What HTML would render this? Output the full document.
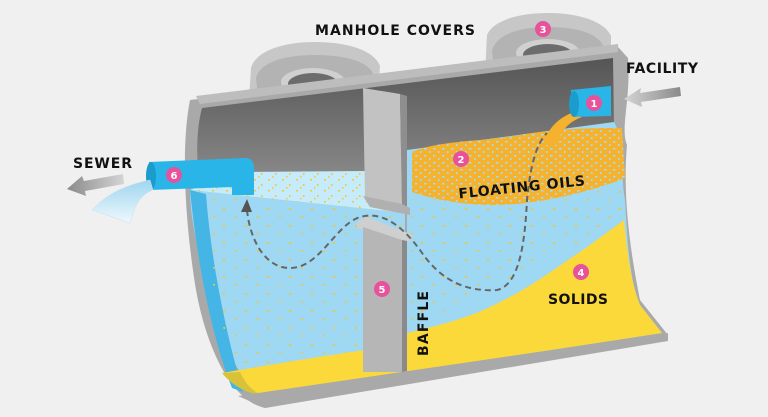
<!DOCTYPE html>
<html><head><meta charset="utf-8"><style>
html,body{margin:0;padding:0;background:#f0f0f0;}
svg{display:block}
text{font-family:"DejaVu Sans","Liberation Sans",sans-serif;font-weight:bold;}
</style></head><body>
<svg width="768" height="417" viewBox="0 0 768 417" xmlns="http://www.w3.org/2000/svg">
<defs>
<linearGradient id="wall" x1="0" y1="0" x2="0" y2="1"><stop offset="0" stop-color="#555"/><stop offset="1" stop-color="#8e8e8e"/></linearGradient>
<linearGradient id="arr" x1="0" y1="0" x2="1" y2="0"><stop offset="0" stop-color="#8a8a8a"/><stop offset="1" stop-color="#d5d5d5"/></linearGradient>
<linearGradient id="arr2" x1="1" y1="0" x2="0" y2="0"><stop offset="0" stop-color="#8a8a8a"/><stop offset="1" stop-color="#d5d5d5"/></linearGradient>
<linearGradient id="flow" x1="0" y1="0" x2="0" y2="1"><stop offset="0" stop-color="#9fd6f0"/><stop offset="1" stop-color="#eef8fc"/></linearGradient>
<pattern id="spk" width="14" height="11" patternUnits="userSpaceOnUse">
<rect x="2" y="3" width="2" height="1.5" fill="#f3c93a"/><rect x="9" y="8" width="1.5" height="2" fill="#f3c93a"/><rect x="6" y="0" width="1.5" height="1.5" fill="#f3c93a"/></pattern>
<pattern id="spk2" width="22" height="17" patternUnits="userSpaceOnUse">
<rect x="3" y="4" width="2" height="2" fill="#f0c63a"/><rect x="15" y="12" width="2" height="1.5" fill="#f0c63a"/></pattern>
<pattern id="oil" width="9" height="7" patternUnits="userSpaceOnUse">
<rect x="1" y="1" width="2.5" height="1.5" fill="#a6dcf3"/><rect x="6" y="4" width="1.5" height="2" fill="#a6dcf3"/></pattern>
</defs>

<g>
<path d="M249,100 L251,68 C256,50 285,42 315,42 C347,42 374,50 380,66 L378,96 Z" fill="#c7c7c7"/>
<path d="M256,78 C260,62 285,55 315,55 C347,55 370,62 374,76 L372,92 L258,96 Z" fill="#b3b3b3"/>
<ellipse cx="313" cy="82" rx="32" ry="14" fill="#d0d0d0"/>
<ellipse cx="313" cy="84" rx="25" ry="11" fill="#6c6c6c"/>
<path d="M485,75 L487,35 C493,20 520,13 548,13 C580,13 605,22 611,36 L611,70 Z" fill="#c7c7c7"/>
<path d="M492,50 C497,34 520,27 548,27 C578,27 600,34 604,48 L604,66 L494,72 Z" fill="#b3b3b3"/>
<ellipse cx="548" cy="53" rx="32" ry="14" fill="#d0d0d0"/>
<ellipse cx="548" cy="55" rx="25" ry="11" fill="#6c6c6c"/>
</g>

<path d="M190,100 L618,47 L628,58 C631,100 620,128 627,145 C622,200 632,260 640,300 L668,335 L265,408 C228,400 205,340 196,290 C186,230 180,150 190,100 Z" fill="#a9a9a9"/>
<path d="M196,96 L618,44 L618,52 L200,104 Z" fill="#bdbdbd"/>
<path d="M202,108 L613,58 L614,124 L410,150 L368,172 L232,172 L200,190 C196,160 196,130 202,108 Z" fill="url(#wall)"/>

<path d="M407,150 L614,122 C625,140 620,170 625,200 C628,250 630,280 640,305 L662,333 L407,372 Z" fill="#9fd8f2"/>
<path d="M190,190 L405,213 L405,372 L262,395 C240,385 215,330 203,270 C196,240 190,215 190,190 Z" fill="#9fd8f2"/>
<path d="M190,190 L206,194 C211,260 225,330 243,392 L232,388 C213,340 198,270 190,190 Z" fill="#45b5e6"/>
<path d="M190,190 L232,172 L368,171 L405,213 Z" fill="#c6ebfa"/>
<path d="M190,190 L232,172 L368,171 L405,213 Z" fill="url(#spk)"/>
<path d="M206,196 L405,214 L405,372 L262,395 C240,385 220,330 210,270 Z" fill="url(#spk2)"/>
<path d="M407,200 L625,175 L625,220 L407,330 Z" fill="url(#spk2)"/>

<path d="M407,333 C440,325 470,318 500,302 C530,288 560,265 590,245 L624,220 C628,260 632,285 640,305 L662,333 L407,372 Z" fill="#fbd93a"/>
<path d="M222,373 C280,363 330,355 365,350 L404,360 L404,372 L265,395 C245,392 232,385 222,373 Z" fill="#fbd93a"/>
<path d="M222,373 L240,372 C245,382 250,390 262,395 C245,393 232,385 222,373Z" fill="#d8c23a"/>
<path d="M238,396 L668,333 L668,341 L265,408 Z" fill="#a9a9a9"/>

<path d="M412,152 C440,140 480,142 520,135 C560,128 595,128 622,128 L625,178 C600,188 565,198 525,203 C485,208 445,203 412,192 Z" fill="#f5b22f"/>
<path d="M412,152 C440,140 480,142 520,135 C560,128 595,128 622,128 L625,178 C600,188 565,198 525,203 C485,208 445,203 412,192 Z" fill="url(#oil)"/>
<path d="M574,112 C558,118 548,128 543,145 L556,145 C560,132 568,122 582,117 Z" fill="#f5b22f"/>

<path d="M363,88 L400,94 L402,205 L365,198 Z" fill="#c2c2c2"/>
<path d="M400,94 L407,96 L407,210 L402,205 Z" fill="#8e8e8e"/>
<path d="M363,196 L402,204 L410,208 L410,215 L370,207 Z" fill="#b0b0b0"/>
<path d="M357,222 L367,217 L413,235 L411,242 L357,228 Z" fill="#cfcfcf"/>
<path d="M363,227 L402,240 L402,372 L363,372 Z" fill="#b6b6b6"/>
<path d="M402,240 L407,241 L407,371 L402,372 Z" fill="#8a8a8a"/>

<path d="M247,210 C250,240 265,268 290,268 C320,268 335,225 360,217 C385,210 405,230 420,250 C440,280 465,292 497,290 C520,285 525,240 527,200 C530,170 535,145 547,133" fill="none" stroke="#666" stroke-width="2" stroke-dasharray="6,4"/>
<path d="M241,212 L247,199 L252,212 Z" fill="#555"/>

<path d="M149,162 L245,158 C252,158 254,163 254,168 L254,195 L232,195 L232,187 L150,190 Z" fill="#29b5e8"/>
<ellipse cx="151" cy="176" rx="5" ry="14" fill="#1a9ccc"/>
<path d="M571,90 L611,86 L611,116 L573,117 Z" fill="#29b5e8"/>
<ellipse cx="574" cy="104" rx="5" ry="13" fill="#1a9ccc"/>
<path d="M150,180 C125,185 105,195 92,210 L130,223 C135,205 140,195 153,190 Z" fill="url(#flow)" stroke="#cde" stroke-width="0.5"/>

<path d="M123,174 L84,181 L82,176 L67,189 L86,196 L85,191 L124,184 Z" fill="url(#arr)"/>
<path d="M680,87 L640,93 L641,88 L624,99 L642,107 L641,102 L681,96 Z" fill="url(#arr2)"/>

<g fill="#e8529b"><circle cx="594" cy="103" r="8"/><circle cx="461" cy="159" r="8"/><circle cx="543" cy="29" r="8"/><circle cx="581" cy="272" r="8"/><circle cx="382" cy="289" r="8"/><circle cx="174" cy="175" r="8"/></g>
<g fill="#fff" font-size="10" text-anchor="middle" style="font-weight:normal">
<text x="594" y="107">1</text><text x="461" y="163">2</text><text x="543" y="33">3</text><text x="581" y="276">4</text><text x="382" y="293">5</text><text x="174" y="179">6</text></g>

<g fill="#111" font-size="14">
<text x="315" y="35" textLength="160">MANHOLE COVERS</text>
<text x="626" y="73" textLength="72">FACILITY</text>
<text x="73" y="168" textLength="59">SEWER</text>
<text x="548" y="304" textLength="60">SOLIDS</text>
<text x="458" y="192" textLength="127" transform="rotate(-6 520 186)">FLOATING OILS</text>
<text x="0" y="0" textLength="65" transform="translate(428,356) rotate(-90)">BAFFLE</text>
</g>
</svg>
</body></html>
